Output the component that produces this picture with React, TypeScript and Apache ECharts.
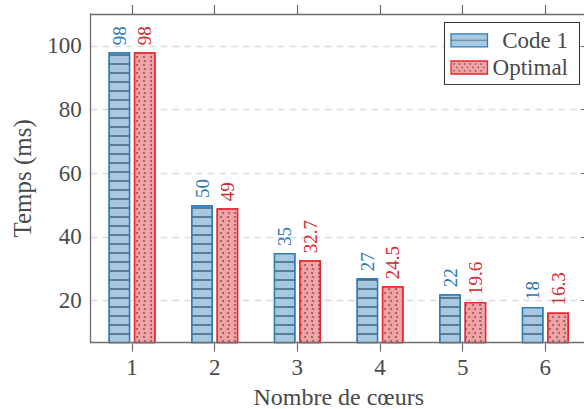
import React, { useEffect, useRef } from "react";
import * as echarts from "echarts";

const categories = ["1", "2", "3", "4", "5", "6"];
const code1Values = [98, 50, 35, 27, 22, 18];
const optimalValues = [98, 49, 32.7, 24.5, 19.6, 16.3];
const seriesNames = ["Code 1", "Optimal"];
const yMin = 6.8;
const yMax = 110;

const FONT = "Liberation Serif";
const TXT = "#4a4a4a";
const FRAME = "#6e6e6e";
const BLUE_FILL = "#a7c8e1";
const BLUE_LINE = "#2f7bb6";
const RED_FILL = "#f3a3a5";
const RED_LINE = "#e5262c";
const BLUE_LABEL = "#2f78b3";
const RED_LABEL = "#d3282d";

export default function App() {
  const ref = useRef<HTMLDivElement>(null);
  useEffect(() => {
    if (!ref.current) return;
    const chart = echarts.init(ref.current, undefined, { renderer: "svg" });

    const dots: any[] = [];
    for (let r = 0; r < 3; r++) {
      for (let c = 0; c < 7; c++) {
        const x = 454 + c * 5.4 + (r % 2 ? 2.7 : 0);
        if (x > 486) continue;
        dots.push({
          type: "circle",
          shape: { cx: x, cy: 64 + r * 3.4, r: 0.8 },
          style: { fill: "#7d5b5d" },
          z: 101,
        });
      }
    }

    const labelBase = {
      show: true,
      position: "top",
      rotate: 90,
      align: "left",
      verticalAlign: "middle",
      distance: 7,
      fontFamily: FONT,
      fontSize: 19,
    };

    chart.setOption({
      animation: false,
      backgroundColor: "#ffffff",
      textStyle: { fontFamily: FONT },
      grid: {
        left: 90.7,
        top: 14,
        right: -2.7,
        bottom: 66.3,
        containLabel: false,
        outerBoundsMode: "none",
      },
      xAxis: [
        {
          type: "category",
          data: categories,
          position: "bottom",
          z: 3,
          axisLine: { show: true, lineStyle: { color: FRAME, width: 1.3 } },
          axisTick: {
            show: true,
            alignWithLabel: true,
            inside: false,
            length: 9,
            lineStyle: { color: FRAME, width: 1.2 },
          },
          axisLabel: {
            color: TXT,
            fontFamily: FONT,
            fontSize: 23,
            margin: 13,
          },
          name: "Nombre de cœurs",
          nameLocation: "middle",
          nameGap: 44,
          nameTextStyle: {
            color: TXT,
            fontFamily: FONT,
            fontSize: 24,
            lineHeight: 20,
          },
          splitLine: { show: false },
        },
        {
          type: "category",
          data: categories,
          position: "top",
          z: 3,
          axisLine: { show: true, lineStyle: { color: FRAME, width: 1.3 } },
          axisTick: {
            show: true,
            alignWithLabel: true,
            inside: false,
            length: 9,
            lineStyle: { color: FRAME, width: 1.2 },
          },
          axisLabel: { show: false },
          splitLine: { show: false },
        },
      ],
      yAxis: [
        {
          type: "value",
          min: yMin,
          max: yMax,
          minInterval: 20,
          maxInterval: 20,
          position: "left",
          z: 0,
          axisLine: { show: true, lineStyle: { color: FRAME, width: 1.3 } },
          axisTick: { show: false },
          axisLabel: {
            color: TXT,
            fontFamily: FONT,
            fontSize: 23,
            margin: 9,
            showMinLabel: false,
            showMaxLabel: false,
          },
          splitLine: {
            show: true,
            showMinLine: false,
            showMaxLine: false,
            lineStyle: { color: "#dcdcdc", width: 1.3, type: [6.7, 5] },
          },
          name: "Temps (ms)",
          nameLocation: "middle",
          nameGap: 56,
          nameTextStyle: { color: TXT, fontFamily: FONT, fontSize: 25 },
        },
        {
          type: "value",
          min: yMin,
          max: yMax,
          minInterval: 20,
          maxInterval: 20,
          position: "right",
          z: 3,
          axisLine: { show: true, lineStyle: { color: FRAME, width: 1.3 } },
          axisTick: {
            show: true,
            inside: true,
            length: 6,
            lineStyle: { color: FRAME },
          },
          axisLabel: { show: false },
          splitLine: { show: false },
        },
      ],
      series: [
        {
          name: seriesNames[0],
          type: "bar",
          data: code1Values,
          barWidth: 21.7,
          barGap: "17%",
          itemStyle: {
            color: BLUE_FILL,
            borderColor: BLUE_LINE,
            borderWidth: 1.3,
            decal: {
              symbol: "rect",
              symbolSize: 1,
              dashArrayX: [1, 0],
              dashArrayY: [1.1, 6.6],
              color: "rgba(65,90,115,0.7)",
              rotation: 0,
            },
          },
          label: { ...labelBase, color: BLUE_LABEL },
        },
        {
          name: seriesNames[1],
          type: "bar",
          data: optimalValues,
          barWidth: 21.7,
          barGap: "17%",
          itemStyle: {
            color: RED_FILL,
            borderColor: RED_LINE,
            borderWidth: 1.3,
            decal: {
              symbol: "circle",
              symbolSize: 1,
              dashArrayX: [
                [1.7, 3.8],
                [0, 2.75, 1.7, 1.05],
              ],
              dashArrayY: [1.7, 1.05],
              color: "rgba(110,75,78,0.8)",
              rotation: 0,
            },
          },
          label: { ...labelBase, color: RED_LABEL },
        },
      ],
      graphic: [
        {
          type: "rect",
          shape: { x: 444.5, y: 22.5, width: 135, height: 62 },
          style: { fill: "#ffffff", stroke: "#3a3a3a", lineWidth: 1.1 },
          z: 100,
        },
        {
          type: "rect",
          shape: { x: 451, y: 33.8, width: 36.5, height: 13 },
          style: { fill: BLUE_FILL, stroke: BLUE_LINE, lineWidth: 1.3 },
          z: 101,
        },
        {
          type: "line",
          shape: { x1: 451.6, y1: 40.3, x2: 486.9, y2: 40.3 },
          style: { stroke: "rgba(65,90,115,0.7)", lineWidth: 1.1 },
          z: 102,
        },
        {
          type: "rect",
          shape: { x: 451, y: 61, width: 36.5, height: 13 },
          style: { fill: RED_FILL, stroke: RED_LINE, lineWidth: 1.3 },
          z: 101,
        },
        ...dots,
        {
          type: "text",
          x: 568,
          y: 40.5,
          style: {
            text: seriesNames[0],
            fill: TXT,
            fontFamily: FONT,
            fontSize: 23,
            align: "right",
            verticalAlign: "middle",
          },
          z: 101,
        },
        {
          type: "text",
          x: 568,
          y: 67,
          style: {
            text: seriesNames[1],
            fill: TXT,
            fontFamily: FONT,
            fontSize: 23,
            align: "right",
            verticalAlign: "middle",
          },
          z: 101,
        },
      ],
    });
    return () => chart.dispose();
  }, []);

  return (
    <div
      ref={ref}
      style={{ position: "fixed", left: 0, top: 0, width: 584, height: 409 }}
    />
  );
}
